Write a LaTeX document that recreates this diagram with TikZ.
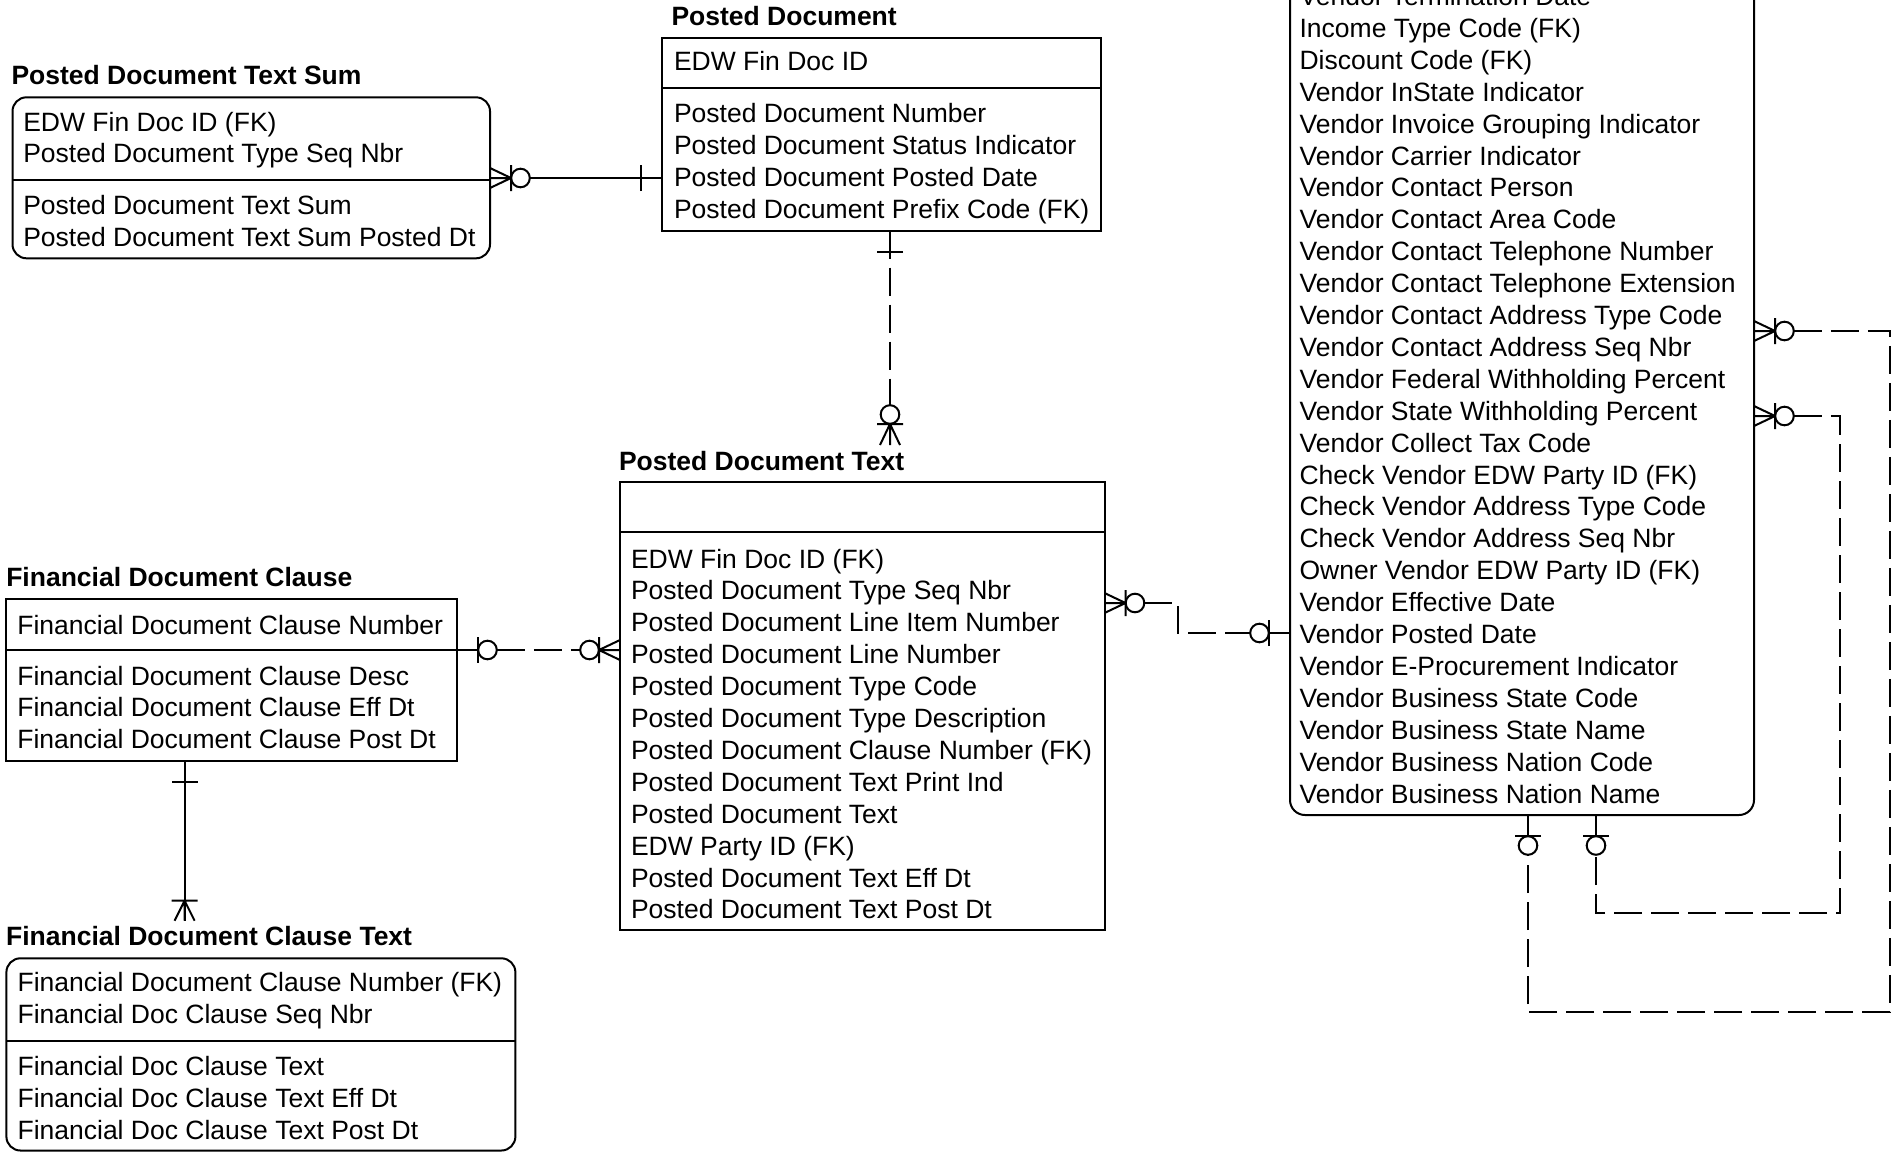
\documentclass[tikz,border=0pt]{standalone}
\usepackage{fontspec}
\setmainfont{Liberation Sans}
\usetikzlibrary{fit,calc}
\begin{document}
\begin{tikzpicture}[x=0.5pt,y=-0.5pt,line width=1pt,
  box/.style={draw,line width=1pt,inner sep=0pt,outer sep=0pt},
  rbox/.style={box,rounded corners=7pt},
  ttl/.style={anchor=base west,inner sep=0pt,font=\fontsize{13.25pt}{15.95pt}\selectfont\bfseries},
  attr/.style={anchor=north west,inner sep=0pt,align=left,font=\fontsize{13.25pt}{15.95pt}\selectfont},
  dconn/.style={dash pattern=on 14pt off 4.5pt},
  crowzero/.pic={
    \draw (0,-10) -- (21,0) (0,10) -- (21,0) (0,0) -- (21,0) (21,-13) -- (21,13);
    \draw[fill=white] (30.5,0) circle[radius=4.65pt];
  },
  crowone/.pic={
    \draw (0,-10) -- (20,0) (0,10) -- (20,0) (0,0) -- (20,0) (20,-13) -- (20,13);
  },
  barzero/.pic={
    \draw (0,0) -- (21,0) (21,-13) -- (21,13);
    \draw[fill=white] (30.5,0) circle[radius=4.65pt];
  },
  barone/.pic={
    \draw (0,0) -- (21,0) (21,-13) -- (21,13);
  }]
\useasboundingbox (0,0) rectangle (1902,1152);
\fill[white] (0,0) rectangle (1902,1152);
\clip (0,0) rectangle (1902,1152);

% ---------- Posted Document Text Sum
\node[ttl] (pdtsT) at (10.5,84) {Posted Document Text Sum};
\node[rbox,fit={(12.5,97.3) (490,258.3)}] (pdts) {};
\draw (pdts.west |- 0,180) -- (pdts.east |- 0,180);
\node[attr] (pdts1) at (22.3,107.7) {\strut EDW Fin Doc ID (FK)\\\strut Posted Document Type Seq Nbr};
\node[attr] (pdts2) at (22.3,191.4) {\strut Posted Document Text Sum\\\strut Posted Document Text Sum Posted Dt};

% ---------- Posted Document
\node[ttl] (pdT) at (670.5,25) {Posted Document};
\node[box,fit={(661.7,37.7) (1101,230.7)}] (pd) {};
\draw (pd.west |- 0,88.3) -- (pd.east |- 0,88.3);
\node[attr] (pd1) at (673,47.5) {\strut EDW Fin Doc ID};
\node[attr] (pd2) at (673,99.2) {\strut Posted Document Number\\\strut Posted Document Status Indicator\\\strut Posted Document Posted Date\\\strut Posted Document Prefix Code (FK)};

% ---------- Posted Document Text
\node[ttl] (pdtTitle) at (618,470) {Posted Document Text};
\node[box,fit={(620,481.7) (1104.5,930)}] (pdt) {};
\draw (pdt.west |- 0,532.3) -- (pdt.east |- 0,532.3);
\node[attr] (pdt2) at (630,544.7) {\strut EDW Fin Doc ID (FK)\\\strut Posted Document Type Seq Nbr\\\strut Posted Document Line Item Number\\\strut Posted Document Line Number\\\strut Posted Document Type Code\\\strut Posted Document Type Description\\\strut Posted Document Clause Number (FK)\\\strut Posted Document Text Print Ind\\\strut Posted Document Text\\\strut EDW Party ID (FK)\\\strut Posted Document Text Eff Dt\\\strut Posted Document Text Post Dt};

% ---------- Financial Document Clause
\node[ttl] (fdcT) at (5.3,586.8) {Financial Document Clause};
\node[box,fit={(6,599.3) (457,761)}] (fdc) {};
\draw (fdc.west |- 0,650) -- (fdc.east |- 0,650);
\node[attr] (fdc1) at (16.4,610.7) {\strut Financial Document Clause Number};
\node[attr] (fdc2) at (16.4,661.7) {\strut Financial Document Clause Desc\\\strut Financial Document Clause Eff Dt\\\strut Financial Document Clause Post Dt};

% ---------- Financial Document Clause Text
\node[ttl] (fdctTitle) at (5.1,945.5) {Financial Document Clause Text};
\node[rbox,fit={(6.4,958.3) (515.4,1150.5)}] (fdct) {};
\draw (fdct.west |- 0,1041) -- (fdct.east |- 0,1041);
\node[attr] (fdct1) at (16.6,968.2) {\strut Financial Document Clause Number (FK)\\\strut Financial Doc Clause Seq Nbr};
\node[attr] (fdct2) at (16.6,1052.2) {\strut Financial Doc Clause Text\\\strut Financial Doc Clause Text Eff Dt\\\strut Financial Doc Clause Text Post Dt};

% ---------- Vendor (top cut off)
\node[rbox,rounded corners=7.5pt,fit={(1290,-100) (1754,815)}] (ven) {};
\node[attr] (ven1) at (1298.6,-17.8) {\strut Vendor Termination Date\\\strut Income Type Code (FK)\\\strut Discount Code (FK)\\\strut Vendor InState Indicator\\\strut Vendor Invoice Grouping Indicator\\\strut Vendor Carrier Indicator\\\strut Vendor Contact Person\\\strut Vendor Contact Area Code\\\strut Vendor Contact Telephone Number\\\strut Vendor Contact Telephone Extension\\\strut Vendor Contact Address Type Code\\\strut Vendor Contact Address Seq Nbr\\\strut Vendor Federal Withholding Percent\\\strut Vendor State Withholding Percent\\\strut Vendor Collect Tax Code\\\strut Check Vendor EDW Party ID (FK)\\\strut Check Vendor Address Type Code\\\strut Check Vendor Address Seq Nbr\\\strut Owner Vendor EDW Party ID (FK)\\\strut Vendor Effective Date\\\strut Vendor Posted Date\\\strut Vendor E-Procurement Indicator\\\strut Vendor Business State Code\\\strut Vendor Business State Name\\\strut Vendor Business Nation Code\\\strut Vendor Business Nation Name};

% ---------- connector end points
\coordinate (pdtTop) at (890,445);
\coordinate (fdctTop) at (184.6,920.7);
\coordinate (c1a) at (pdts.east |- 0,178);
\coordinate (c1b) at (pd.west |- 0,178);
\coordinate (c2a) at (pd.south -| pdtTop);
\coordinate (c3a) at (fdc.east |- 0,650);
\coordinate (c3b) at (pdt.west |- 0,650);
\coordinate (c4a) at (fdc.south -| fdctTop);
\coordinate (c5a) at (pdt.east |- 0,603);
\coordinate (c5b) at (ven.west |- 0,633);
\coordinate (c5k) at (1178,633);
\coordinate (c6a) at (ven.east |- 0,331);
\coordinate (c6b) at (ven.south -| 1528,0);
\coordinate (c6k) at (1890,1012);
\coordinate (c7a) at (ven.east |- 0,416);
\coordinate (c7b) at (ven.south -| 1596,0);
\coordinate (c7k) at (1839.5,913);

% ---------- connectors
\draw (c1a) -- (c1b);
\draw[dconn] (c2a) -- ($(pdtTop)+(0,-39.8)$);
\draw[dconn] ($(c3a)+(39.8,0)$) -- ($(c3b)+(-39.8,0)$);
\draw (c4a) -- (fdctTop);
\draw[dconn] ($(c5a)+(39.8,0)$) -| (c5k) -- ($(c5b)+(-39.8,0)$);
\draw[dconn] ($(c6a)+(39.8,0)$) -| (c6k) -| ($(c6b)+(0,39.8)$);
\draw[dconn] ($(c7a)+(39.8,0)$) -| (c7k) -| ($(c7b)+(0,39.8)$);

% ---------- cardinality marks
\pic at (c1a) {crowzero};
\pic[rotate=180] at (c1b) {barone};
\pic[rotate=-90] at (c2a) {barone};
\pic[rotate=90] at (pdtTop) {crowzero};
\pic at (c3a) {barzero};
\pic[rotate=180] at (c3b) {crowzero};
\pic[rotate=-90] at (c4a) {barone};
\pic[rotate=90] at (fdctTop) {crowone};
\pic at (c5a) {crowzero};
\pic[rotate=180] at (c5b) {barzero};
\pic at (c6a) {crowzero};
\pic[rotate=-90] at (c6b) {barzero};
\pic at (c7a) {crowzero};
\pic[rotate=-90] at (c7b) {barzero};
\end{tikzpicture}
\end{document}
